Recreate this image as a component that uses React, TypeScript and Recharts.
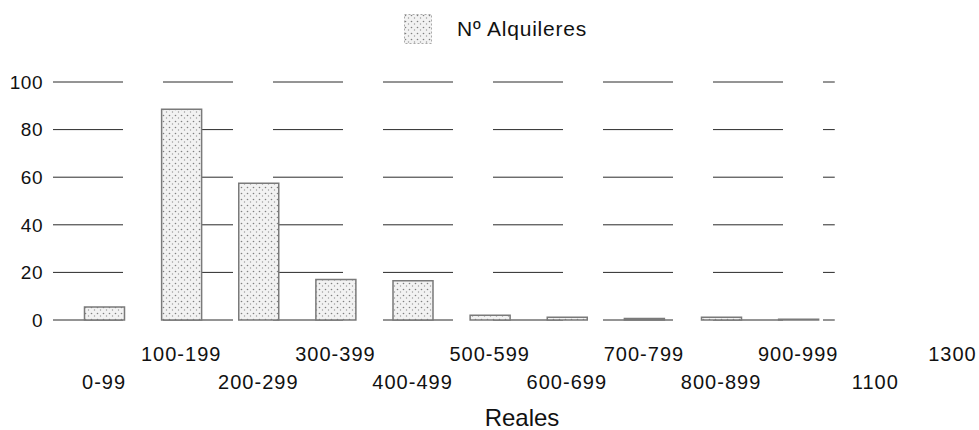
import { BarChart, Bar, XAxis, YAxis, CartesianGrid, ReferenceArea } from 'recharts';

const categories = ['0-99', '100-199', '200-299', '300-399', '400-499', '500-599', '600-699', '700-799', '800-899', '900-999', '1100', '1300'];
const alquileres = [5.5, 88.5, 57.5, 17, 16.5, 2, 1.2, 0.6, 1.2, 0.3, 0, 0];
const yTicks = [0, 20, 40, 60, 80, 100];

const seriesName = 'Nº Alquileres';
const axisTitle = 'Reales';

const font = '"Liberation Sans", Arial, Helvetica, sans-serif';

const data = categories.map((c, i) => ({ name: c, alquileres: alquileres[i] }));

// staggered labels: even index on the lower row
function StaggerTick(props: any) {
  const { x, y, payload, index } = props;
  const low = index % 2 === 0;
  return (
    <text
      x={x}
      y={y + (low ? 69 : 41)}
      textAnchor="middle"
      fontSize={20}
      letterSpacing={1}
      fill="#111"
      fontFamily={font}
    >
      {payload.value}
    </text>
  );
}

export default function App() {
  return (
    <div
      style={{
        position: 'absolute',
        left: 0,
        top: 0,
        width: 979,
        height: 430,
        overflow: 'hidden',
        background: '#fff',
        fontFamily: font,
      }}
    >
      <svg width={0} height={0} style={{ position: 'absolute' }}>
        <defs>
          <pattern id="dots" width={6} height={6} patternUnits="userSpaceOnUse">
            <rect width={6} height={6} fill="#f2f2f2" />
            <circle cx={1.5} cy={1.5} r={0.8} fill="#808080" />
            <circle cx={4.5} cy={4} r={0.7} fill="#9a9a9a" />
          </pattern>
        </defs>
      </svg>

      <div style={{ position: 'absolute', left: 404, top: 14, display: 'flex', alignItems: 'center' }}>
        <svg width={28} height={30}>
          <rect x={0.5} y={0.5} width={27} height={29} fill="url(#dots)" stroke="#aaa" strokeDasharray="2 2" />
        </svg>
        <span style={{ marginLeft: 25, fontSize: 21, letterSpacing: 0.8, color: '#111' }}>{seriesName}</span>
      </div>

      <BarChart
        width={1004}
        height={430}
        data={data}
        margin={{ top: 82, right: 13, bottom: 25, left: 0 }}
      >
        <CartesianGrid vertical={false} stroke="#2a2a2a" strokeDasharray="70 40" />
        <ReferenceArea x1="1100" fill="#fff" fillOpacity={1} stroke="#fff" strokeWidth={4} />
        <XAxis
          dataKey="name"
          interval={0}
          axisLine={false}
          tickLine={false}
          tickSize={0}
          tickMargin={0}
          height={85}
          padding={{ left: 12.5, right: 0 }}
          tick={<StaggerTick />}
          label={{ value: axisTitle, position: 'bottom', offset: 4, fontSize: 24, fill: '#111', fontFamily: font }}
        />
        <YAxis
          width={53}
          domain={[0, 100]}
          ticks={yTicks}
          axisLine={false}
          tickLine={false}
          tickSize={0}
          tickMargin={10}
          tick={{ fontSize: 19, fill: '#111', fontFamily: font, letterSpacing: 0.5 }}
        />
        <Bar
          dataKey="alquileres"
          name={seriesName}
          barSize={40}
          fill="url(#dots)"
          stroke="#7a7a7a"
          strokeWidth={1.5}
          isAnimationActive={false}
        />
      </BarChart>
    </div>
  );
}
